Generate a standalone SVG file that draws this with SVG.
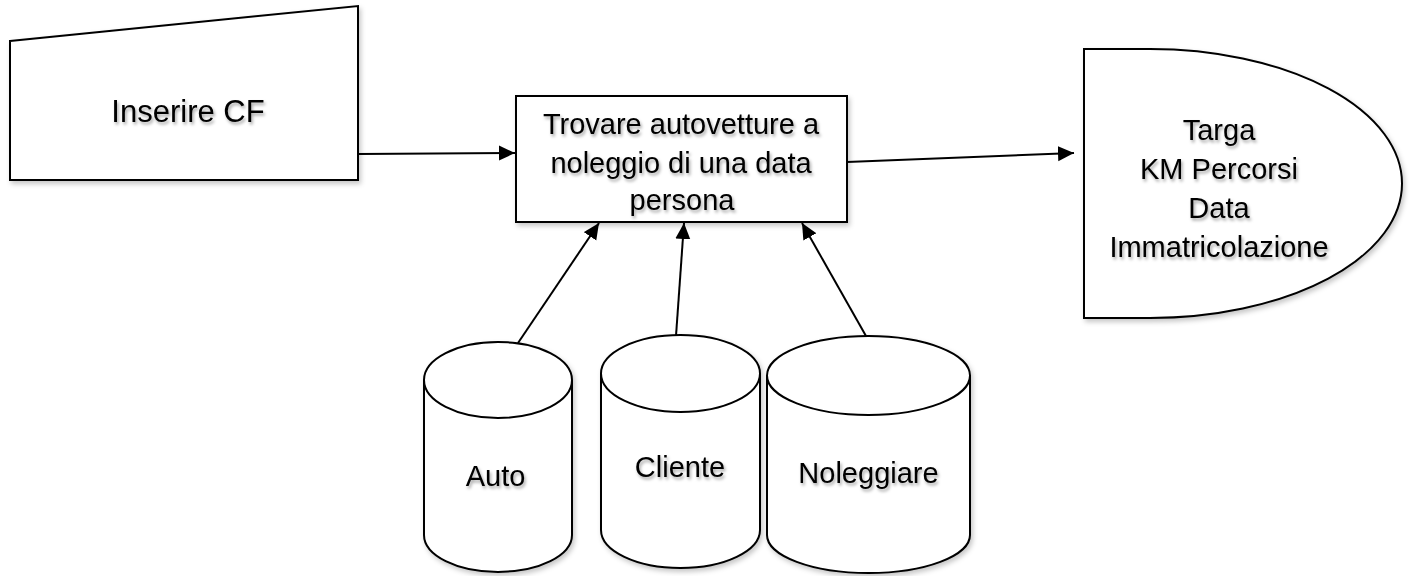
<svg xmlns="http://www.w3.org/2000/svg" width="1413" height="576" viewBox="0 0 1413 576">
<defs>
<filter id="sh" x="-10%" y="-10%" width="130%" height="130%">
<feDropShadow dx="2" dy="3" stdDeviation="2.5" flood-color="#000" flood-opacity="0.22"/>
</filter>
<filter id="tsh" x="-10%" y="-20%" width="130%" height="150%">
<feDropShadow dx="1.5" dy="2.5" stdDeviation="1.5" flood-color="#000" flood-opacity="0.35"/>
</filter>
<marker id="ah" markerUnits="userSpaceOnUse" markerWidth="18" markerHeight="16" refX="16" refY="8" orient="auto">
<path d="M0,0.5 L16,8 L0,15.5 Z" fill="#000"/>
</marker>
</defs>
<style>
.shape{fill:#fff;stroke:#000;stroke-width:2;filter:url(#sh)}
.line{fill:none;stroke:#000;stroke-width:2}
.conn{fill:none;stroke:#000;stroke-width:2;marker-end:url(#ah)}
text{font-family:"Liberation Sans",Arial,sans-serif;font-size:29px;fill:#000;text-anchor:middle;filter:url(#tsh)}
.in{font-size:31px}
</style>
<rect width="1413" height="576" fill="#fff"/>
<g id="inserire">
<polygon class="shape" points="10,41 358,6 358,180 10,180"/>
<text class="in" x="188" y="122">Inserire CF</text>
</g>
<g id="trovare">
<rect class="shape" x="516" y="96" width="331" height="126"/>
<text x="681" y="134">Trovare autovetture a</text>
<text x="681" y="173">noleggio di una data</text>
<text x="682" y="210">persona</text>
</g>
<g id="output">
<path class="shape" d="M1084,49 L1150,49 A252,134.5 0 0 1 1402,183.5 A252,134.5 0 0 1 1150,318 L1084,318 Z"/>
<text x="1219" y="140">Targa</text>
<text x="1219" y="179">KM Percorsi</text>
<text x="1219" y="218">Data</text>
<text x="1219" y="257">Immatricolazione</text>
</g>
<g id="auto">
<path class="shape" d="M424,380 A74,38 0 0 1 572,380 L572,535 A74,37 0 0 1 424,535 Z"/>
<path class="line" d="M424,380 A74,38 0 0 0 572,380"/>
<text x="495.5" y="486">Auto</text>
</g>
<g id="cliente">
<path class="shape" d="M601,373.5 A79.5,38.5 0 0 1 760,373.5 L760,530 A79.5,38 0 0 1 601,530 Z"/>
<path class="line" d="M601,373.5 A79.5,38.5 0 0 0 760,373.5"/>
<text x="680" y="477">Cliente</text>
</g>
<g id="noleggiare">
<path class="shape" d="M767,375.5 A101.5,39.5 0 0 1 970,375.5 L970,535 A101.5,38 0 0 1 767,535 Z"/>
<path class="line" d="M767,375.5 A101.5,39.5 0 0 0 970,375.5"/>
<text x="868.5" y="483">Noleggiare</text>
</g>
<g id="connectors">
<line class="conn" x1="358" y1="154" x2="515" y2="153"/>
<line class="conn" x1="847" y1="162" x2="1074" y2="153"/>
<line class="conn" x1="518" y1="343" x2="599" y2="223"/>
<line class="conn" x1="676" y1="336" x2="684" y2="223"/>
<line class="conn" x1="866" y1="336" x2="802" y2="223"/>
</g>
</svg>
